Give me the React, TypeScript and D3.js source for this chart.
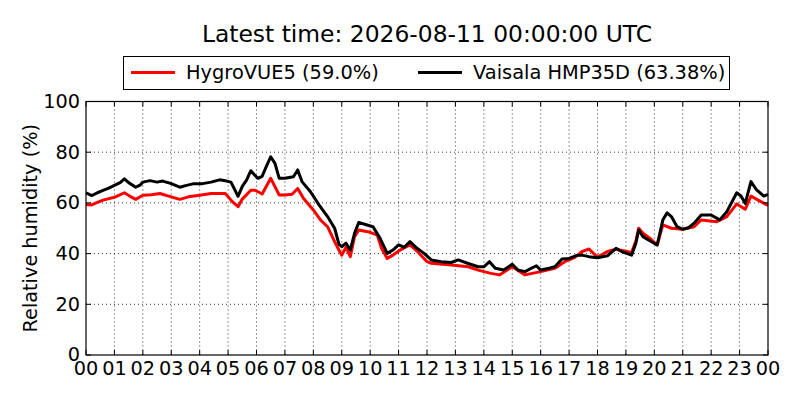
import React from 'react';
import * as d3 from 'd3';

// hours since 00 UTC
const hmpHours = [0, 0.2, 0.4, 0.6, 0.8, 1, 1.2, 1.35, 1.5, 1.75, 1.9, 2, 2.25, 2.5, 2.7, 3, 3.3, 3.5, 3.8, 4.1, 4.4, 4.7, 4.95, 5.1, 5.25, 5.35, 5.5, 5.65, 5.8, 5.95, 6.05, 6.2, 6.35, 6.5, 6.65, 6.8, 7, 7.3, 7.45, 7.6, 7.9, 8.2, 8.5, 8.75, 8.9, 9, 9.15, 9.3, 9.45, 9.6, 9.8, 10.1, 10.35, 10.6, 10.8, 11, 11.2, 11.4, 11.65, 11.9, 12.15, 12.5, 12.85, 13.1, 13.45, 13.8, 14, 14.2, 14.4, 14.7, 15, 15.2, 15.45, 15.7, 15.85, 16, 16.3, 16.5, 16.75, 17, 17.25, 17.45, 17.7, 18, 18.35, 18.65, 18.85, 19.2, 19.35, 19.45, 19.6, 19.9, 20.1, 20.3, 20.45, 20.6, 20.8, 21, 21.2, 21.4, 21.65, 22, 22.3, 22.55, 22.9, 23.05, 23.2, 23.4, 23.6, 23.85, 24];
const hmpValues = [64.0, 62.9, 64.0, 64.9, 65.8, 66.9, 68.0, 69.5, 68.0, 66.2, 67.0, 68.2, 68.8, 68.2, 68.6, 67.6, 66.2, 66.8, 67.6, 67.6, 68.2, 69.1, 68.6, 68.2, 64.9, 62.6, 66.5, 69.0, 72.7, 70.8, 69.7, 70.5, 74.5, 78.2, 75.6, 69.7, 69.7, 70.3, 73.0, 68.4, 64.4, 59.2, 54.6, 50.0, 43.7, 42.7, 44.1, 41.4, 48.0, 52.3, 51.6, 50.6, 46.0, 40.1, 41.4, 43.4, 42.5, 44.7, 42.1, 40.1, 37.5, 36.8, 36.5, 37.5, 36.1, 34.8, 34.8, 36.8, 34.2, 33.5, 35.8, 33.5, 32.9, 34.4, 35.2, 33.5, 34.2, 34.8, 37.9, 38.1, 39.2, 39.4, 38.8, 38.4, 39.1, 42.1, 40.8, 39.4, 44.1, 49.3, 46.7, 44.7, 43.4, 53.3, 56.1, 54.6, 50.6, 49.6, 50.2, 52.0, 55.2, 55.2, 53.3, 56.5, 64.0, 62.7, 59.8, 68.4, 65.1, 62.7, 63.38];

const vueHours = [0, 0.2, 0.4, 0.6, 1, 1.35, 1.55, 1.75, 2, 2.3, 2.6, 3, 3.3, 3.6, 4, 4.4, 4.9, 5.15, 5.35, 5.5, 5.8, 5.95, 6.05, 6.2, 6.5, 6.8, 7, 7.25, 7.45, 7.65, 8, 8.25, 8.5, 8.75, 8.9, 9, 9.15, 9.3, 9.45, 9.6, 10, 10.25, 10.4, 10.6, 10.8, 11.05, 11.4, 11.65, 12, 12.15, 12.85, 13.45, 13.8, 14.25, 14.55, 15, 15.45, 16, 16.5, 16.85, 17.2, 17.45, 17.7, 18, 18.35, 18.65, 19.2, 19.35, 19.45, 19.6, 19.85, 20.1, 20.3, 20.6, 21, 21.4, 21.65, 22.2, 22.55, 22.9, 23.2, 23.4, 23.65, 24];
const vueValues = [59.4, 59.2, 60.2, 61.1, 62.2, 64.0, 62.6, 61.4, 63.0, 63.2, 63.7, 62.4, 61.4, 62.4, 63.0, 63.7, 63.7, 60.5, 58.5, 61.5, 65.0, 65.0, 64.4, 63.5, 69.7, 63.1, 63.1, 63.4, 65.7, 61.8, 57.2, 53.3, 50.6, 44.7, 41.4, 39.4, 42.5, 38.8, 46.7, 49.3, 48.4, 47.3, 42.1, 38.1, 39.4, 41.4, 43.4, 41.0, 36.8, 36.2, 35.5, 34.8, 33.5, 32.2, 31.6, 34.8, 31.6, 32.9, 34.2, 36.8, 38.5, 40.8, 41.8, 38.6, 40.8, 41.7, 40.4, 45.0, 50.0, 48.0, 46.0, 43.4, 51.3, 50.0, 49.6, 50.6, 53.3, 52.6, 54.6, 59.6, 57.5, 62.7, 61.1, 59.0];

const hourTicks = d3.range(0, 25);
const rhTicks = [0, 20, 40, 60, 80, 100];
const titleText = 'Latest time: 2026-08-11 00:00:00 UTC';
const legendItems = [
  { label: 'HygroVUE5 (59.0%)', color: '#ff0000' },
  { label: 'Vaisala HMP35D (63.38%)', color: '#000000' },
];

const W = 800;
const H = 400;
const left = 86, right = 768, top = 101.5, bottom = 355;
const font = '"DejaVu Sans", sans-serif';

const App: React.FC = () => {
  const x = d3.scaleLinear().domain([0, 24]).range([left, right]);
  const y = d3.scaleLinear().domain([0, 100]).range([bottom, top]);

  const line = d3.line<[number, number]>()
    .x(d => x(d[0]))
    .y(d => y(d[1]));

  const hmp = hmpHours.map((h, i) => [h, hmpValues[i]] as [number, number]);
  const vue = vueHours.map((h, i) => [h, vueValues[i]] as [number, number]);

  const tickLen = 5;

  return (
    <svg width={W} height={H} style={{ position: 'absolute', left: 0, top: 0, background: '#fff' }} fontFamily={font}>
      <rect width={W} height={H} fill="#fff" />

      {/* grid */}
      {hourTicks.slice(1, -1).map(h => (
        <line key={'gx' + h} x1={x(h)} x2={x(h)} y1={top} y2={bottom} stroke="#000" strokeWidth={0.8} strokeDasharray="1,3" />
      ))}
      {rhTicks.slice(1, -1).map(v => (
        <line key={'gy' + v} x1={left} x2={right} y1={y(v)} y2={y(v)} stroke="#000" strokeWidth={0.8} strokeDasharray="1,3" />
      ))}

      {/* data */}
      <path d={line(vue)!} fill="none" stroke="#ff0000" strokeWidth={3} strokeLinejoin="round" />
      <path d={line(hmp)!} fill="none" stroke="#000" strokeWidth={3} strokeLinejoin="round" />

      {/* ticks, inward on all four sides */}
      {hourTicks.map(h => (
        <g key={'tx' + h}>
          <line x1={x(h)} x2={x(h)} y1={bottom} y2={bottom - tickLen} stroke="#000" />
          <line x1={x(h)} x2={x(h)} y1={top} y2={top + tickLen} stroke="#000" />
          <text x={x(h)} y={375} fontSize={19.3} textAnchor="middle">{d3.format('02d')(h % 24)}</text>
        </g>
      ))}
      {rhTicks.map(v => (
        <g key={'ty' + v}>
          <line x1={left} x2={left + tickLen} y1={y(v)} y2={y(v)} stroke="#000" />
          <line x1={right} x2={right - tickLen} y1={y(v)} y2={y(v)} stroke="#000" />
          <text x={80} y={y(v)} dy="0.33em" fontSize={19.3} textAnchor="end">{v}</text>
        </g>
      ))}

      <rect x={left} y={top} width={right - left} height={bottom - top} fill="none" stroke="#000" strokeWidth={1.2} />

      <text transform={`translate(37,${(top + bottom) / 2}) rotate(-90)`} fontSize={19.3} textAnchor="middle">Relative humidity (%)</text>

      <text x={(left + right) / 2} y={42} fontSize={23.4} textAnchor="middle">{titleText}</text>

      {/* legend */}
      <rect x={123.5} y={56.5} width={606} height={33} fill="#fff" stroke="#000" strokeWidth={1} />
      {legendItems.map((item, i) => {
        const lx = i === 0 ? 131 : 418;
        return (
          <g key={item.label}>
            <line x1={lx} x2={lx + 44} y1={72.5} y2={72.5} stroke={item.color} strokeWidth={3} />
            <text x={lx + 55} y={79} fontSize={19.4}>{item.label}</text>
          </g>
        );
      })}
    </svg>
  );
};

export default App;
